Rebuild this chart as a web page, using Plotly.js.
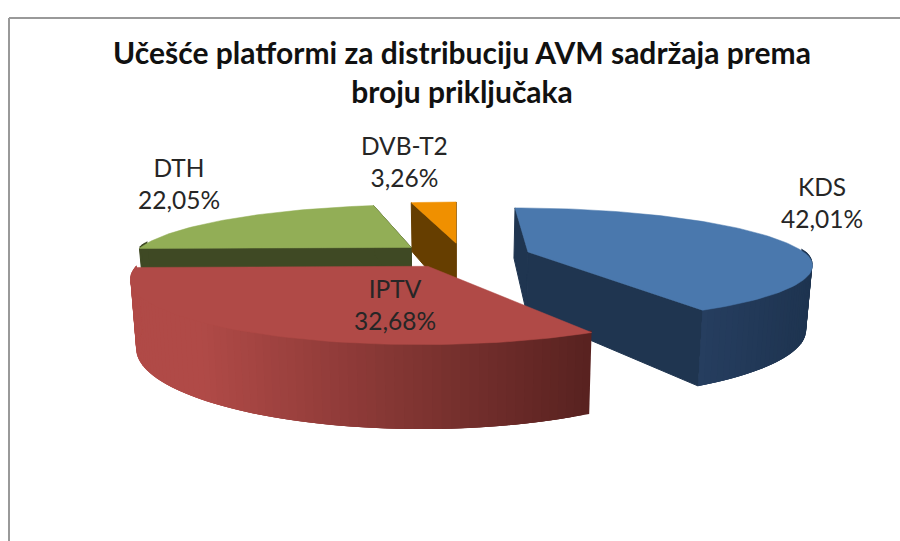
<!DOCTYPE html>
<html><head><meta charset="utf-8">
<script src="https://cdn.plot.ly/plotly-3.0.1.min.js"></script>
<style>html,body{margin:0;padding:0;background:#fff}#c{width:900px;height:541px}</style>
</head><body><div id="c"></div>
<script>
// Data
const categories = ["KDS","IPTV","DTH","DVB-T2"];
const shares = [42.01,32.68,22.05,3.26];
const shareLabels = ["42,01%","32,68%","22,05%","3,26%"];
const chartTitle = "Učešće platformi za distribuciju AVM sadržaja prema<br>broju priključaka";

// Style
const topColors = ["#4A78AD","#B04A47","#92AE56","#F09000"];
const cutColors = ["#1F3550",null,"#3F4924","#663E00"];
const wallFrom = [[38,62,96],[176,74,71],[63,73,36],[102,62,0]];
const wallTo   = [[30,52,80],[88,34,32],[63,73,36],[102,62,0]];
const wallRange = [[700,810],[200,590],[0,1],[0,1]];
const drawOrder = [0,2,3,1];
const labelPos = [[822,202],[395,304],[179,183],[404,161.5]];

// 3D pie projection parameters
const cx=7, R=279, Ry=300, explode=68, k=0.00074, kxFront=0.88, vx=456, hy=7, h=248, H=62, bottomShrink=0.982, tuck=2;
function project(X,Y,low){
  const s=1/(1+k*Y);
  const sxBase=Y<0?1/(1+kxFront*k*Y):s;
  const sx=low?sxBase*bottomShrink:sxBase;
  return [vx+X*sx, hy+(h+(low?H:0))*s];
}
const total=shares.reduce((a,b)=>a+b,0);
let acc=0;
const slices=shares.map(v=>{const a0=acc/total*2*Math.PI;acc+=v;const a1=acc/total*2*Math.PI;return {a0,a1};});

function poly(pts,color,lw){
  return {type:"scatter",mode:"lines",x:pts.map(p=>p[0]),y:pts.map(p=>p[1]),fill:"toself",fillcolor:color,
    line:{color:color,width:lw},hoverinfo:"skip",showlegend:false};
}
function lerpColor(a,b,t){t=Math.max(0,Math.min(1,t));
  return "rgb("+a.map((v,i)=>Math.round(v+(b[i]-v)*t)).join(",")+")";}

const traces=[];
drawOrder.forEach(i=>{
  const {a0,a1}=slices[i], mid=(a0+a1)/2;
  const ax=cx+explode*Math.sin(mid), ay=explode*Math.cos(mid);
  const rim=a=>[ax+R*Math.sin(a), ay+Ry*Math.cos(a)];
  // cut faces (the IPTV slice shows none from this viewpoint)
  if(cutColors[i]) [a0,a1].forEach(a=>{
    const r=rim(a);
    traces.push(poly([project(ax,ay,false),project(r[0],r[1],false),project(r[0],r[1],true),project(ax,ay,true),project(ax,ay,false)],cutColors[i],1));
  });
  // outer wall, only the part that faces the viewer; each strip overlaps the next so no seams show,
  // and its upper edge is raised a little to tuck under the top face
  const step=Math.PI/120;
  for(let a=a0;a<a1-1e-6;a+=step){
    const b=Math.min(a+step,a1), c=Math.min(a+3*step,a1);
    if(Math.cos((a+b)/2)>0.03) continue;
    const topEdge=[],lowEdge=[];
    for(let t=a;t<=c+1e-9;t+=(c-a)/3){
      const q=rim(t), p=project(q[0],q[1],false);
      topEdge.push([p[0],p[1]-tuck]);
      lowEdge.unshift(project(q[0],q[1],true));
    }
    const pts=topEdge.concat(lowEdge);pts.push(topEdge[0]);
    const mx=(topEdge[0][0]+project(rim(b)[0],rim(b)[1],false)[0])/2, rg=wallRange[i];
    traces.push(poly(pts,lerpColor(wallFrom[i],wallTo[i],(mx-rg[0])/(rg[1]-rg[0])),0));
  }
  // top face
  const pts=[project(ax,ay,false)];
  const n=Math.max(8,Math.round((a1-a0)/step));
  for(let j=0;j<=n;j++){const r=rim(a0+(a1-a0)*j/n);pts.push(project(r[0],r[1],false));}
  pts.push(pts[0]);
  traces.push(poly(pts,topColors[i],0.5));
});

const annotations=categories.map((c,i)=>({x:labelPos[i][0],y:labelPos[i][1],xref:"x",yref:"y",showarrow:false,
  text:c+"<br>"+shareLabels[i],align:"center",font:{family:"Lato, Carlito, sans-serif",size:24.5,color:"#262626"}}));

const layout={width:900,height:541,margin:{l:0,r:0,t:0,b:0},paper_bgcolor:"#fff",plot_bgcolor:"#fff",showlegend:false,
  title:{text:chartTitle,x:462/900,xanchor:"center",y:1-64/541,yanchor:"middle",font:{family:"Lato, Carlito, sans-serif",size:30,color:"#111",weight:700}},
  xaxis:{range:[0,900],visible:false,fixedrange:true},
  yaxis:{range:[541,0],visible:false,fixedrange:true},
  annotations,
  shapes:[
    {type:"line",xref:"x",yref:"y",x0:9,x1:9,y0:18,y1:541,line:{color:"#999",width:2},layer:"below"},
    {type:"line",xref:"x",yref:"y",x0:9,x1:900,y0:18,y1:18,line:{color:"#999",width:2},layer:"below"}
  ]};
Plotly.newPlot("c",traces,layout,{staticPlot:true,displayModeBar:false});
</script></body></html>
